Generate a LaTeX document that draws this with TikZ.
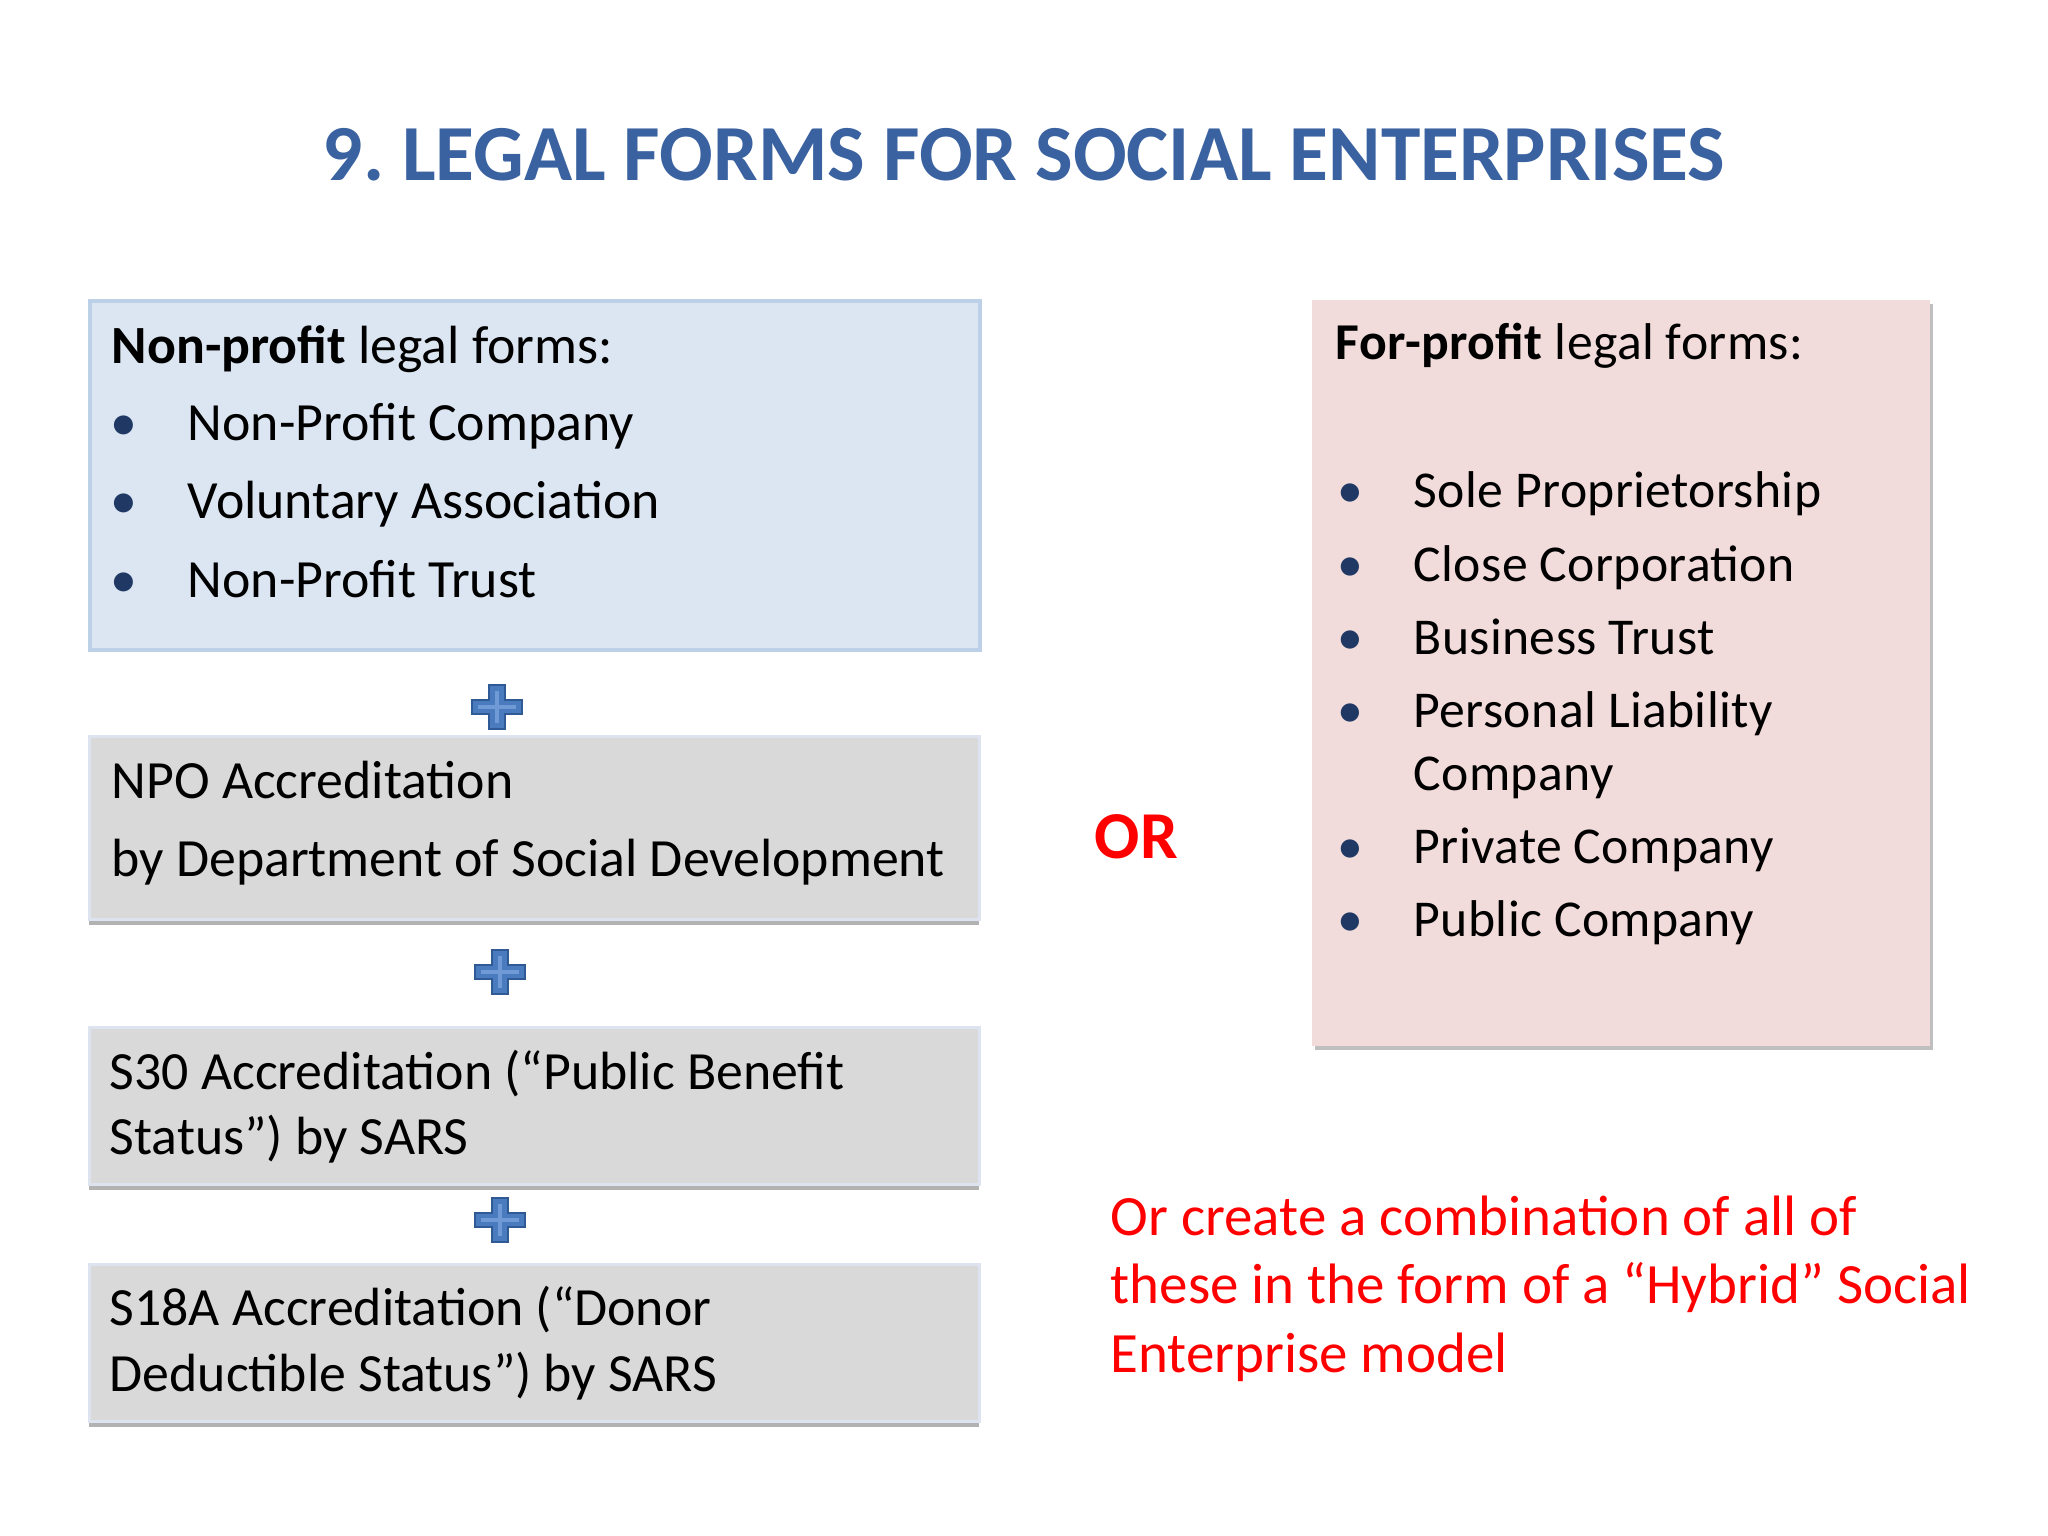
\documentclass[tikz,border=0pt]{standalone}
\usepackage{fontspec}
\setmainfont{Carlito}
\usetikzlibrary{positioning, shadows}
\definecolor{sehead}{HTML}{3A62A0}
\definecolor{sebluefill}{HTML}{DCE6F2}
\definecolor{seblueline}{HTML}{BCD0E8}
\definecolor{segrayfill}{HTML}{D9D9D9}
\definecolor{segrayline}{HTML}{DDE4EF}
\definecolor{sepinkfill}{HTML}{F2DCDB}
\definecolor{sebullet}{HTML}{1F3864}
\definecolor{seplus}{HTML}{2F5A96}
\definecolor{seplusfill}{HTML}{4A7BBE}
\definecolor{seplusin}{HTML}{6F9AD6}
\definecolor{sered}{HTML}{FF0000}

\tikzset{
  formbox/.style={draw=seblueline, line width=1.2pt, fill=sebluefill, anchor=north west, inner sep=0pt},
  accbox/.style={draw=segrayline, line width=0.9pt, fill=segrayfill, anchor=north west, inner sep=0pt,
    drop shadow={shadow xshift=0cm, shadow yshift=-0.05cm, fill=black, opacity=0.3}},
  profitbox/.style={fill=sepinkfill, anchor=north west, inner sep=0pt,
    drop shadow={shadow xshift=0.03cm, shadow yshift=-0.04cm, fill=black, opacity=0.25}},
  bodytxt/.style={anchor=base west, inner sep=0pt, font=\fontsize{15.3}{18}\selectfont},
  bullettxt/.style={bodytxt, text=sebullet},
  fptxt/.style={bodytxt, font=\fontsize{14.7}{18}\selectfont\addfontfeatures{LetterSpace=0.7}},
  fpbullet/.style={fptxt, text=sebullet},
  hybtxt/.style={bodytxt, text=sered, font=\fontsize{16.2}{19}\selectfont},
}

% plus sign between the accreditation boxes
\newcommand{\plusmark}[2]{%
  \coordinate (#1) at (#2);
  \filldraw[shift={(#1)}, draw=seplus, fill=seplusfill, line width=0.6pt]
    (-25,-7) -- (-8,-7) -- (-8,-22) -- (8,-22) -- (8,-7) -- (25,-7) -- (25,7)
    -- (8,7) -- (8,22) -- (-8,22) -- (-8,7) -- (-25,7) -- cycle;
  \draw[shift={(#1)}, seplusin, line width=1pt] (-19,0) -- (19,0) (0,-16) -- (0,16);
}

\begin{document}
\frenchspacing
\begin{tikzpicture}[x=0.01cm, y=-0.01cm]
  \useasboundingbox (0,0) rectangle (2048,1536);

  % title
  \node[anchor=base, inner sep=0pt, text=sehead, font=\fontsize{22.6}{26}\selectfont\bfseries]
    (title) at (1024,180) {9. LEGAL FORMS FOR SOCIAL ENTERPRISES};

  % left column
  \node[formbox, minimum width=8.895cm, minimum height=3.49cm] (nonprofit) at (87.5,299) {};
  \node[bodytxt] (np-head) at (111,363) {\textbf{Non-profit} legal forms:};
  \foreach \name/\y/\txt in {npc/440/Non-Profit Company, va/518/Voluntary Association, npt/597/Non-Profit Trust}{
    \node[bullettxt] (\name-dot) at (110,\y) {•};
    \node[bodytxt] (\name) at (187,\y) {\txt};
  }

  \plusmark{plus1}{497,707}

  \node[accbox, minimum width=8.895cm, minimum height=1.83cm] (npo) at (87.5,735) {};
  \node[bodytxt] (npo-1) at (111,798) {NPO Accreditation};
  \node[bodytxt] (npo-2) at (111,876) {by Department of Social Development};

  \plusmark{plus2}{500,972}

  \node[accbox, minimum width=8.895cm, minimum height=1.57cm] (s30) at (87.5,1026) {};
  \node[bodytxt] (s30-1) at (109,1089) {S30 Accreditation (“Public Benefit};
  \node[bodytxt] (s30-2) at (109,1154) {Status”) by SARS};

  \plusmark{plus3}{500,1220}

  \node[accbox, minimum width=8.895cm, minimum height=1.57cm] (s18a) at (87.5,1263) {};
  \node[bodytxt] (s18a-1) at (109,1325) {S18A Accreditation (“Donor};
  \node[bodytxt] (s18a-2) at (109,1391) {Deductible Status”) by SARS};

  % middle
  \node[anchor=base west, inner sep=0pt, text=sered, font=\fontsize{19.06}{22}\selectfont\bfseries]
    (or) at (1094,858) {OR};

  % right column
  \node[profitbox, minimum width=6.18cm, minimum height=7.46cm] (forprofit) at (1311,299) {};
  \node[fptxt] (fp-head) at (1335,359) {\textbf{For-profit} legal forms:};
  \foreach \name/\y/\txt in {sp/507/Sole Proprietorship, cc/581/Close Corporation, bt/654/Business Trust,
      plc/727/Personal Liability, pc/863/Private Company, pub/936/Public Company}{
    \node[fpbullet] (\name-dot) at (1337,\y) {•};
    \node[fptxt] (\name) at (1413,\y) {\txt};
  }
  \node[fptxt] (plc-2) at (1413,790) {Company};

  % hybrid note
  \node[hybtxt] (hyb-1) at (1110,1235) {Or create a combination of all of};
  \node[hybtxt] (hyb-2) at (1110,1303) {these in the form of a “Hybrid” Social};
  \node[hybtxt] (hyb-3) at (1110,1372) {Enterprise model};
\end{tikzpicture}
\end{document}
